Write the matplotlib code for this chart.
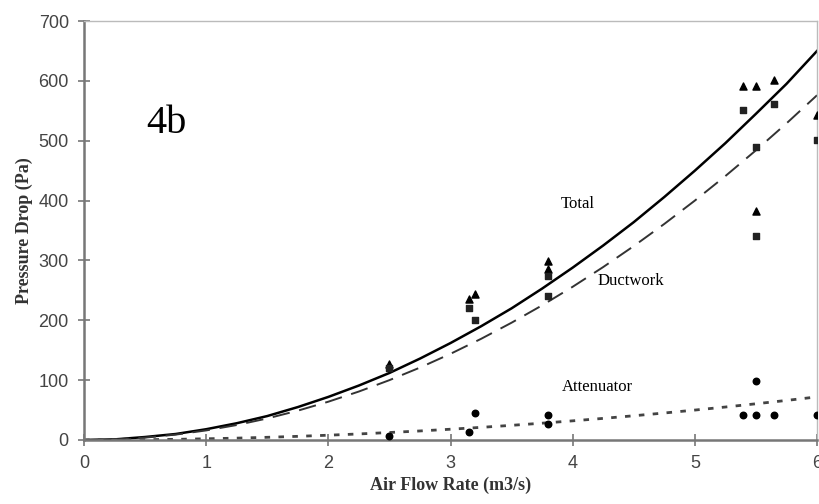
import matplotlib.pyplot as plt
import numpy as np

serif = "Liberation Serif"
sans = "Liberation Sans"

# measured pressure drops at each test flow rate
flow = [2.5, 3.15, 3.2, 3.8, 3.8, 5.39, 5.5, 5.65, 6.0, 5.5]
total_meas = [127, 235, 244, 299, 285, 591, 591, 601, 543, 383]
duct_meas = [120, 221, 200, 274, 240, 551, 489, 562, 501, 341]
atten_meas = [7, 13, 45, 42, 26, 41, 41, 41, 42, 99]

# fitted trend lines
q_fit = [0, 0.25, 0.5, 0.75, 1, 1.25, 1.5, 1.75, 2, 2.25, 2.5, 2.75, 3,
         3.25, 3.5, 3.75, 4, 4.25, 4.5, 4.75, 5, 5.25, 5.5, 5.75, 6]
total_fit = [0, 1, 5, 10, 18, 28, 40, 55, 72, 91, 112, 136, 162,
             190, 220, 253, 288, 325, 364, 406, 450, 496, 545, 595, 650]
duct_fit = [0, 1, 4, 9, 16, 25, 36, 49, 64, 81, 100, 121, 144,
            169, 196, 225, 256, 289, 324, 361, 400, 441, 484, 529, 576]
atten_fit = [0, 0.1, 0.5, 1.1, 2, 3.1, 4.5, 6.1, 8, 10.1, 12.5, 15.1, 18,
             21.1, 24.5, 28.1, 32, 36.1, 40.5, 45.1, 50, 55.1, 60.5, 66.1, 72]

fig = plt.figure(figsize=(8.19, 5.04), dpi=100)
ax = fig.add_axes([0.1026, 0.127, 0.895, 0.8313])

ax.plot(q_fit, total_fit, "-", c="black", lw=1.8)
ax.plot(q_fit, duct_fit, "--", c="#333333", lw=1.4, dashes=(9, 5))
ax.plot(q_fit, atten_fit, ":", c="#444444", lw=2.0, dashes=(2, 3))

ax.scatter(flow, total_meas, marker="^", s=26, c="black", zorder=3)
ax.scatter(flow, duct_meas, marker="s", s=20, c="#222222", zorder=3)
ax.scatter(flow, atten_meas, marker="o", s=22, c="black", zorder=3)

ax.text(3.9, 395, "Total", fontname=serif, fontsize=12, va="center")
ax.text(4.2, 265, "Ductwork", fontname=serif, fontsize=12, va="center")
ax.text(3.91, 89, "Attenuator", fontname=serif, fontsize=12, va="center")
ax.text(0.51, 528, "4b", fontname=serif, fontsize=29, va="center")

ax.set_xlim(0, 6)
ax.set_ylim(0, 700)
ax.set_xticks(np.arange(0, 7, 1))
ax.set_yticks(np.arange(0, 800, 100))
ax.tick_params(direction="inout", length=8, width=1.2, colors="#777777",
               labelcolor="#444444", labelsize=13, pad=7)
for lab in ax.get_xticklabels() + ax.get_yticklabels():
    lab.set_fontname(sans)

for side in ["left", "bottom"]:
    ax.spines[side].set_color("#777777")
    ax.spines[side].set_linewidth(1.8)
for side in ["top", "right"]:
    ax.spines[side].set_color("#bbbbbb")
    ax.spines[side].set_linewidth(1.0)

ax.set_xlabel("Air Flow Rate (m3/s)", fontname=serif, fontsize=13,
              weight="bold", color="#333333", labelpad=3)
ax.set_ylabel("Pressure Drop (Pa)", fontname=serif, fontsize=13,
              weight="bold", color="#333333", labelpad=4)

fig.savefig("out.png", dpi=100)
